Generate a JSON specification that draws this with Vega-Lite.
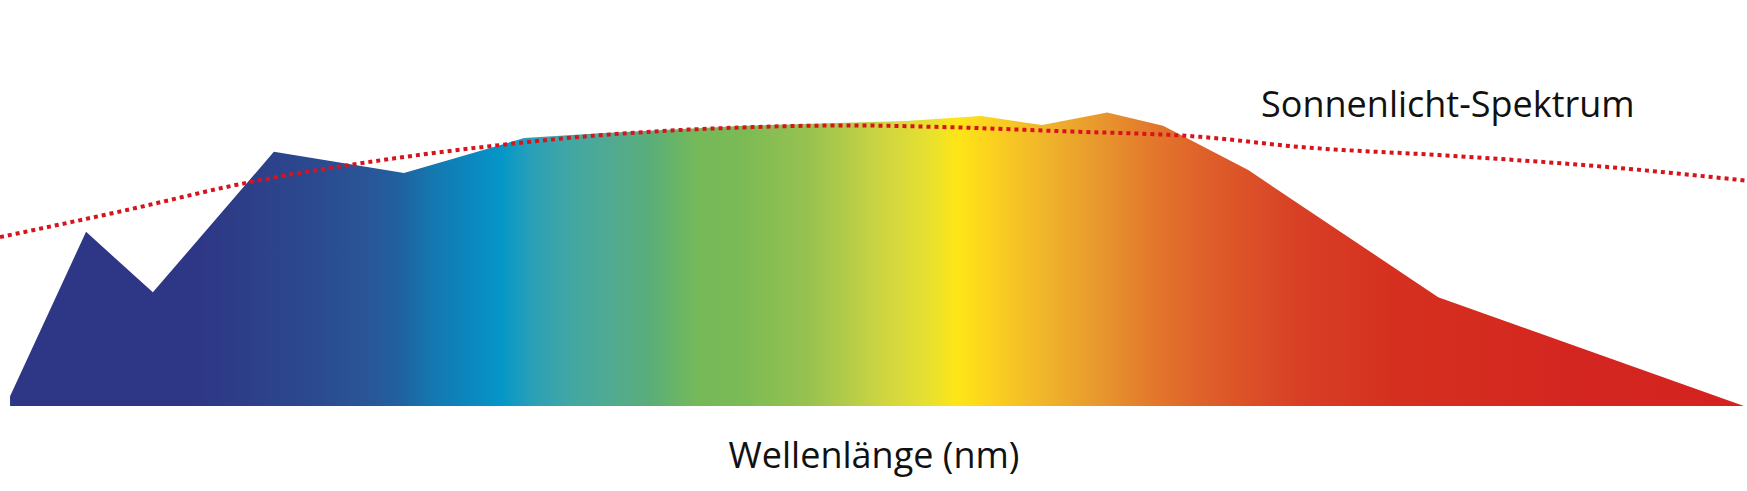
{
  "$schema": "https://vega.github.io/schema/vega-lite/v6.json",
  "width": 1747,
  "height": 406,
  "autosize": {"type": "none"},
  "padding": {"left": 0, "top": 0, "right": 0, "bottom": 85},
  "background": "white",
  "config": {"view": {"stroke": null}},
  "datasets": {
    "spectrum": [
      {"nm": 382.3, "v": 0},
      {"nm": 382.3, "v": 2.4},
      {"nm": 399.7, "v": 42.9},
      {"nm": 415.0, "v": 28.0},
      {"nm": 442.7, "v": 62.6},
      {"nm": 472.5, "v": 57.4},
      {"nm": 500.0, "v": 66.0},
      {"nm": 517.4, "v": 67.2},
      {"nm": 550.6, "v": 69.0},
      {"nm": 587.4, "v": 70.2},
      {"nm": 604.6, "v": 71.4},
      {"nm": 618.6, "v": 69.2},
      {"nm": 633.5, "v": 72.3},
      {"nm": 646.3, "v": 69.0},
      {"nm": 665.8, "v": 58.1},
      {"nm": 709.3, "v": 26.8},
      {"nm": 779.3, "v": 0}
    ],
    "sun": [
      {"nm": 380.0, "v": 41.6},
      {"nm": 407.9, "v": 48.0},
      {"nm": 436.1, "v": 54.9},
      {"nm": 467.7, "v": 60.6},
      {"nm": 492.2, "v": 64.0},
      {"nm": 517.4, "v": 66.7},
      {"nm": 552.4, "v": 68.7},
      {"nm": 574.6, "v": 69.1},
      {"nm": 596.1, "v": 68.7},
      {"nm": 622.5, "v": 67.7},
      {"nm": 654.8, "v": 66.3},
      {"nm": 677.7, "v": 63.8},
      {"nm": 712.7, "v": 61.6},
      {"nm": 747.7, "v": 58.9},
      {"nm": 780.0, "v": 55.5}
    ],
    "labels": [
      {"nm": 711.5, "v": 71.2, "label": "Sonnenlicht-Spektrum"}
    ]
  },
  "encoding": {
    "x": {
      "field": "nm", "type": "quantitative",
      "scale": {"domain": [380, 780], "nice": false, "zero": false},
      "axis": {
        "title": "Wellenlänge (nm)",
        "labels": false, "ticks": false, "domain": false, "grid": false,
        "titleFont": "Open Sans", "titleFontSize": 36, "titleFontWeight": "normal",
        "titleColor": "#111111", "titlePadding": 33
      }
    },
    "y": {
      "field": "v", "type": "quantitative",
      "scale": {"domain": [0, 100], "nice": false, "zero": true},
      "axis": null
    }
  },
  "layer": [
    {
      "data": {"name": "spectrum"},
      "mark": {
        "type": "area",
        "interpolate": "linear",
        "color": {
          "gradient": "linear",
          "x1": 0, "x2": 1, "y1": 0, "y2": 0,
          "stops": [
            {"offset": 0, "color": "#2e3786"},
            {"offset": 0.109, "color": "#2e3786"},
            {"offset": 0.138, "color": "#2d3f88"},
            {"offset": 0.177, "color": "#2b4a90"},
            {"offset": 0.205, "color": "#2a5597"},
            {"offset": 0.224, "color": "#2060a0"},
            {"offset": 0.244, "color": "#1578b0"},
            {"offset": 0.267, "color": "#0a88c0"},
            {"offset": 0.284, "color": "#0597c8"},
            {"offset": 0.301, "color": "#2aa0b8"},
            {"offset": 0.321, "color": "#40a6a5"},
            {"offset": 0.350, "color": "#52ab8e"},
            {"offset": 0.370, "color": "#5aae78"},
            {"offset": 0.396, "color": "#75b95a"},
            {"offset": 0.422, "color": "#7bba55"},
            {"offset": 0.461, "color": "#98c250"},
            {"offset": 0.484, "color": "#b4cc48"},
            {"offset": 0.505, "color": "#d0d640"},
            {"offset": 0.529, "color": "#e6e030"},
            {"offset": 0.546, "color": "#fde617"},
            {"offset": 0.567, "color": "#fbd020"},
            {"offset": 0.596, "color": "#f0b52a"},
            {"offset": 0.628, "color": "#e8982e"},
            {"offset": 0.657, "color": "#e37a2c"},
            {"offset": 0.686, "color": "#df622a"},
            {"offset": 0.725, "color": "#da4a27"},
            {"offset": 0.744, "color": "#d83f25"},
            {"offset": 0.800, "color": "#d5301f"},
            {"offset": 0.900, "color": "#d42620"},
            {"offset": 1, "color": "#d3231f"}
          ]
        }
      }
    },
    {
      "data": {"name": "sun"},
      "mark": {
        "type": "line",
        "interpolate": "monotone",
        "color": "#d7141e",
        "strokeWidth": 4,
        "strokeDash": [4, 4],
        "strokeCap": "butt"
      }
    },
    {
      "data": {"name": "labels"},
      "mark": {
        "type": "text",
        "font": "Open Sans",
        "fontSize": 36,
        "color": "#111111",
        "align": "center",
        "baseline": "alphabetic"
      },
      "encoding": {"text": {"field": "label"}}
    }
  ]
}
